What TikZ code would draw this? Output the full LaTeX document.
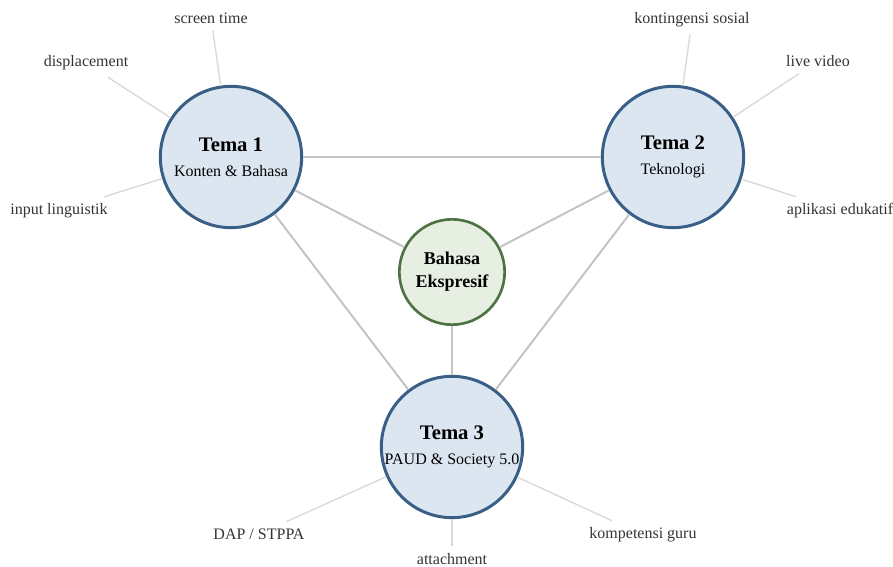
\documentclass[tikz,border=0pt]{standalone}
\usepackage{fontspec}
\setmainfont{Liberation Serif}
\definecolor{temafill}{HTML}{DCE6F1}
\definecolor{temadraw}{HTML}{3A5F86}
\definecolor{pusatfill}{HTML}{E7EFE2}
\definecolor{pusatdraw}{HTML}{4F7443}
\definecolor{garis}{HTML}{C4C4C4}
\definecolor{garisdaun}{HTML}{D8D8D8}
\definecolor{teksdaun}{HTML}{333333}

\begin{document}
\begin{tikzpicture}[x=0.75pt,y=0.75pt,yscale=-1,xscale=1,
  tema/.style={circle, draw=temadraw, fill=temafill, line width=2.25pt, minimum size=106pt, inner sep=0pt, align=center, font=\fontsize{12}{14}\selectfont},
  pusat/.style={circle, draw=pusatdraw, fill=pusatfill, line width=2pt, minimum size=79pt, inner sep=0pt, align=center, font=\fontsize{13.5}{17}\selectfont\bfseries},
  daun/.style={text=teksdaun, inner sep=5pt, font=\fontsize{12}{14}\selectfont},
  hubung/.style={draw=garis, line width=1.5pt},
  cabang/.style={draw=garisdaun, line width=1pt}]
%uncomment if require: \path (0,567); %set diagram left start at 0, and has height of 567
\useasboundingbox (0,0) rectangle (893,567);

%Shape: Circle [tema 1]
\node [tema] (t1) at (231,157) {{\fontsize{15.5}{18}\selectfont\bfseries Tema 1}\\[5pt]Konten \& Bahasa};
%Shape: Circle [tema 2]
\node [tema] (t2) at (673,157) {{\fontsize{15.5}{18}\selectfont\bfseries Tema 2}\\[5pt]Teknologi};
%Shape: Circle [tema 3]
\node [tema] (t3) at (452,447) {{\fontsize{15.5}{18}\selectfont\bfseries Tema 3}\\[5pt]PAUD \& Society 5.0};
%Shape: Circle [pusat]
\node [pusat] (be) at (452,272) {Bahasa\\Ekspresif};

%Straight Lines [antar tema]
\draw [hubung] (t1) -- (t2) ;
\draw [hubung] (t1) -- (t3) ;
\draw [hubung] (t2) -- (t3) ;
\draw [hubung] (t1) -- (be) ;
\draw [hubung] (t2) -- (be) ;
\draw [hubung] (be) -- (t3) ;

% Text Node
\node [daun] (st) at (211,18) {screen time};
\node [daun] (dp) at (86,63) {displacement};
\node [daun] (il) at (59,211) {input linguistik};
\node [daun] (ks) at (692,20) {kontingensi sosial};
\node [daun] (lv) at (818,61) {live video};
\node [daun] (ae) at (840,211) {aplikasi edukatif};
\node [daun] (dap) at (259,534) {DAP / STPPA};
\node [daun] (at) at (452,559) {attachment};
\node [daun] (kg) at (643,535) {kompetensi guru};

%Straight Lines [cabang]
\draw [cabang] (t1) -- (st) ;
\draw [cabang] (t1) -- (dp) ;
\draw [cabang] (t1) -- (il) ;
\draw [cabang] (t2) -- (ks) ;
\draw [cabang] (t2) -- (lv) ;
\draw [cabang] (t2) -- (ae) ;
\draw [cabang] (t3) -- (dap) ;
\draw [cabang] (t3) -- (at) ;
\draw [cabang] (t3) -- (kg) ;

\end{tikzpicture}
\end{document}
